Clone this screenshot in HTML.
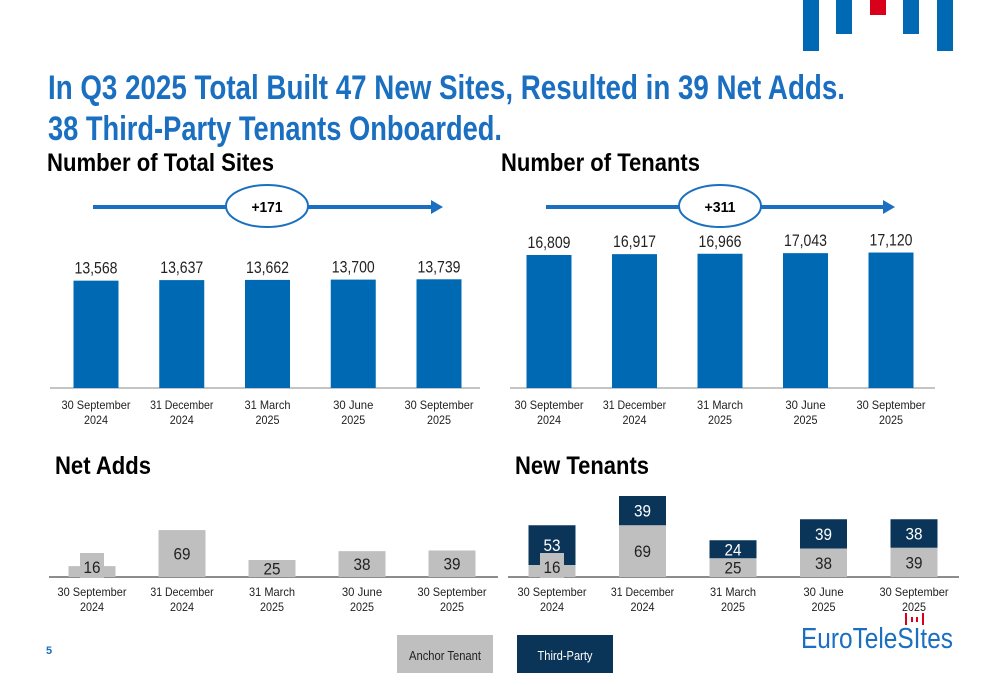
<!DOCTYPE html>
<html><head><meta charset="utf-8"><style>
body{margin:0;width:1000px;height:685px;overflow:hidden;background:#fff;font-family:"Liberation Sans",Arial,sans-serif}
svg{position:absolute;left:0;top:0}
text{font-family:"Liberation Sans",Arial,sans-serif}
</style></head><body>
<svg id="s" width="1000" height="685" viewBox="0 0 1000 685">
<g>
<rect x="803" y="0" width="16" height="51" fill="#0069b4"/>
<rect x="836" y="0" width="16" height="34" fill="#0069b4"/>
<rect x="870" y="0" width="16" height="15" fill="#d9001b"/>
<rect x="903" y="0" width="16" height="34" fill="#0069b4"/>
<rect x="937" y="0" width="16" height="51" fill="#0069b4"/>
</g>
<g fill="#1a6fc1" font-weight="bold" font-size="34">
<text x="48" y="99" textLength="797" lengthAdjust="spacingAndGlyphs">In Q3 2025 Total Built 47 New Sites, Resulted in 39 Net Adds.</text>
<text x="48" y="140" textLength="454" lengthAdjust="spacingAndGlyphs">38 Third-Party Tenants Onboarded.</text>
</g>
<text x="47" y="171" font-size="25" font-weight="bold" textLength="227" lengthAdjust="spacingAndGlyphs">Number of Total Sites</text>
<text x="501" y="171" font-size="25" font-weight="bold" textLength="199" lengthAdjust="spacingAndGlyphs">Number of Tenants</text>
<text x="55" y="474" font-size="25" font-weight="bold" textLength="96" lengthAdjust="spacingAndGlyphs">Net Adds</text>
<text x="515" y="474" font-size="25" font-weight="bold" textLength="134" lengthAdjust="spacingAndGlyphs">New Tenants</text>
<g id="topg"></g>
<g id="botg"></g>
<text x="46" y="654" font-size="11" font-weight="bold" fill="#1a6fc1">5</text>
<g>
<rect x="397" y="635" width="96" height="38" fill="#bfbfbf"/>
<text x="445" y="660" font-size="13" text-anchor="middle" fill="#222" textLength="72" lengthAdjust="spacingAndGlyphs">Anchor Tenant</text></g>
<g>
<rect x="517" y="635" width="96" height="38" fill="#0b3558"/>
<text x="565" y="660" font-size="13" text-anchor="middle" fill="#fff" textLength="55" lengthAdjust="spacingAndGlyphs">Third-Party</text></g>
<g>
<rect x="905" y="613" width="2" height="12" fill="#d9001b"/><rect x="911" y="617" width="2" height="5" fill="#d9001b"/><rect x="916" y="617" width="2" height="5" fill="#d9001b"/><rect x="922" y="613" width="2" height="12" fill="#d9001b"/>
<text x="801" y="648" font-size="29" fill="#1a6fc1" textLength="152" lengthAdjust="spacingAndGlyphs">EuroTeleSItes</text>
</g>
</svg>
<script>
const cats1=["30 September","31 December","31 March","30 June","30 September"];
const cats2=["2024","2024","2025","2025","2025"];
const sites=[13568,13637,13662,13700,13739];
const tenants=[16809,16917,16966,17043,17120];
const netAdds=[16,69,25,38,39];
const anchorNew=[16,69,25,38,39];
const thirdNew=[53,39,24,39,38];
const siteGrowth="+171", tenantGrowth="+311";
const NS="http://www.w3.org/2000/svg";
function mk(p,t,a,txt){const e=document.createElementNS(NS,t);for(const k in a)e.setAttribute(k,a[k]);if(txt!=null)e.textContent=txt;p.appendChild(e);return e;}
const topG=document.getElementById('topg'),botG=document.getElementById('botg');
function fmt(v){return v.toLocaleString('en-US');}
function nar(t,w){t.setAttribute('textLength',w);t.setAttribute('lengthAdjust','spacingAndGlyphs');}
function xlabels(g,cx,y){cats1.forEach((c,i)=>{const t=mk(g,'text',{x:cx(i),y:y,'font-size':12,'text-anchor':'middle',fill:'#222'},c);
nar(t,c.length*5.75);


const t2=mk(g,'text',{x:cx(i),y:y+15,'font-size':12,'text-anchor':'middle',fill:'#222'},cats2[i]);
nar(t2,24);

});}
function topChart(vals,x0,x1,step,first,growth,ex){
 const base=388,k=133/16809,bw=45;
 const cx=i=>first+i*step;
 const ax=mk(topG,'line',{x1:x0,x2:x1,y1:base,y2:base,stroke:'#888','stroke-width':1});
 
 
 vals.forEach((v,i)=>{const h=v*k;
  const b=mk(topG,'rect',{x:cx(i)-bw/2,y:base-h,width:bw,height:h,fill:'#0069b4'});
  
  
  const t=mk(topG,'text',{x:cx(i),y:base-h-7,'font-size':17,'text-anchor':'middle',fill:'#222'},fmt(v));
  nar(t,43);
  
  });
 xlabels(topG,cx,409);
 const ln=mk(topG,'line',{x1:first-3,x2:first+4*step-6,y1:207,y2:207,stroke:'#1a6fc1','stroke-width':4});
 
 
 mk(topG,'polygon',{points:`${first+4*step-8},200 ${first+4*step+4},207 ${first+4*step-8},214`,fill:'#1a6fc1'});
 const e=mk(topG,'ellipse',{cx:ex,cy:206,rx:41,ry:21,fill:'#fff',stroke:'#1a6fc1','stroke-width':2});
 
 
 const g=mk(topG,'text',{x:ex,y:212,'font-size':15,'font-weight':'bold','text-anchor':'middle'},growth);
 nar(g,31);
}
topChart(sites,50,480,85.75,96,siteGrowth,267);
topChart(tenants,510,935,85.5,549,tenantGrowth,720);
function smallBox(g,x,y){const r=mk(g,'rect',{x:x-12,y:y-20,width:24,height:25,fill:'#bfbfbf'});
 
 }
(function(){const base=577,k=0.68,bw=47,cx=i=>92+i*90;
 const ax=mk(botG,'line',{x1:49,x2:498,y1:base,y2:base,stroke:'#666','stroke-width':1.5});
 
 
 netAdds.forEach((v,i)=>{const h=v*k;
  const b=mk(botG,'rect',{x:cx(i)-bw/2,y:base-h,width:bw,height:h,fill:'#bfbfbf'});
  
  
  let ty=base-h/2+6; if(h<13){ty=base-4;smallBox(botG,cx(i),ty);}
  const t=mk(botG,'text',{x:cx(i),y:ty,'font-size':17,'text-anchor':'middle',fill:'#222'},v);
  nar(t,17);
  
  });
 xlabels(botG,cx,596);})();
(function(){const base=577,k=0.75,bw=47,cx=i=>552+i*90.5;
 const ax=mk(botG,'line',{x1:508,x2:959,y1:base,y2:base,stroke:'#666','stroke-width':1.5});
 
 
 anchorNew.forEach((v,i)=>{const h=v*k,h2=thirdNew[i]*k;
  const b=mk(botG,'rect',{x:cx(i)-bw/2,y:base-h,width:bw,height:h,fill:'#bfbfbf'});
  
  
  const b2=mk(botG,'rect',{x:cx(i)-bw/2,y:base-h-h2,width:bw,height:h2,fill:'#0b3558'});
  
  
  let ty=base-h/2+6; if(h<13){ty=base-4;smallBox(botG,cx(i),ty);}
  const t=mk(botG,'text',{x:cx(i),y:ty,'font-size':17,'text-anchor':'middle',fill:'#222'},v);
  nar(t,17);
  
  
  const t2=mk(botG,'text',{x:cx(i),y:base-h-h2/2+6,'font-size':17,'text-anchor':'middle',fill:'#fff'},thirdNew[i]);
  nar(t2,17);
  
  });
 xlabels(botG,cx,596);})();
</script>
</body></html>
